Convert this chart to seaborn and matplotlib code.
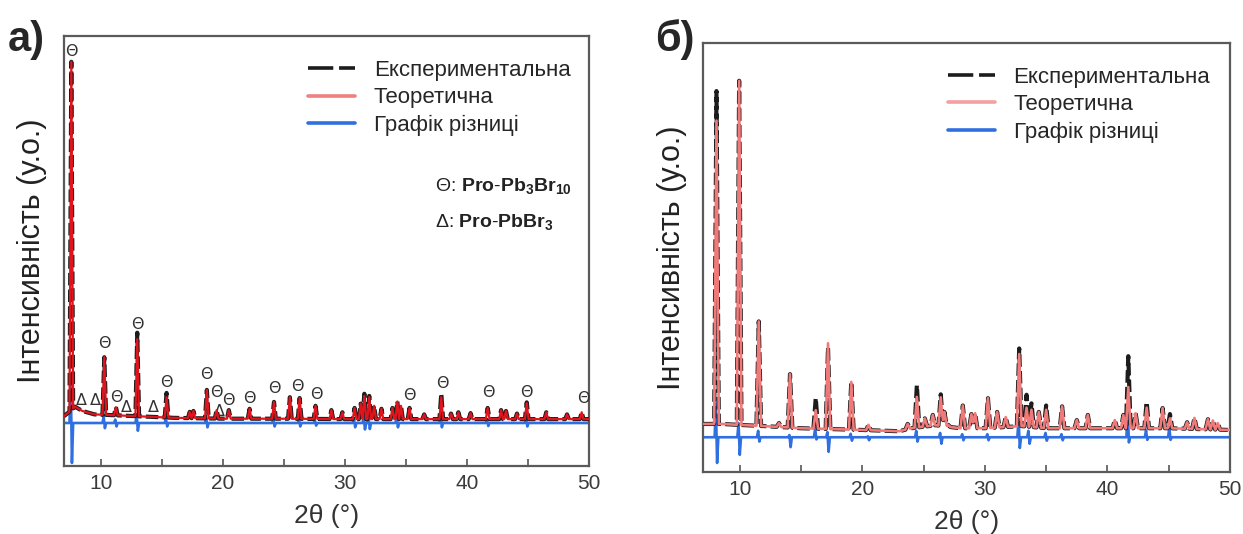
import numpy as np
import matplotlib
matplotlib.use("Agg")
import matplotlib.pyplot as plt
from matplotlib.lines import Line2D
import seaborn as sns

# ---------------- data ----------------
# Panel a)  background of the pattern
a_bg_x = [7.0, 7.4, 7.9, 8.5, 9.5, 12.0, 16.0, 20.0, 25.0, 30.0, 35.0, 40.0, 45.0, 50.0]
a_bg_y = [11.6, 12.5, 13.8, 12.8, 12.0, 11.7, 11.2, 11.0, 11.0, 10.9, 10.9, 10.9, 10.9, 10.9]
# peak positions, experimental tops, theoretical tops
a_pos = [7.6, 10.3, 11.25, 13.0, 15.4, 17.3, 17.6, 18.7, 19.5, 20.5, 22.2, 24.2, 25.5, 26.3,
         27.6, 28.9, 29.8, 30.8, 31.3, 31.6, 32.0, 32.4, 33.0, 33.9, 34.3, 34.6, 35.3, 36.5,
         37.9, 38.7, 39.3, 40.3, 41.7, 42.8, 43.2, 44.1, 44.9, 46.5, 48.2, 49.4]
a_obs = [94.0, 25.3, 13.7, 31.0, 17.0, 12.6, 12.8, 17.7, 13.0, 13.0, 13.3, 14.9, 16.0, 15.8,
         14.0, 13.0, 12.5, 13.5, 14.5, 16.8, 16.3, 14.0, 13.3, 13.5, 15.0, 14.0, 13.5, 12.0,
         16.8, 12.2, 12.5, 12.3, 13.5, 13.0, 12.8, 12.2, 14.8, 12.5, 12.0, 12.5]
a_calc = [94.0, 25.3, 13.7, 29.5, 16.0, 12.6, 12.8, 17.7, 13.0, 13.0, 13.3, 14.9, 16.0, 15.8,
          14.0, 13.0, 12.5, 13.5, 14.5, 16.3, 16.0, 14.0, 13.3, 13.5, 15.0, 14.0, 13.5, 12.0,
          16.0, 12.2, 12.5, 12.3, 13.5, 13.0, 12.8, 12.2, 14.6, 12.5, 12.0, 12.5]
# difference curve: baseline and spikes (position, up, down)
a_diff_base = 10.0
a_diff_pos = [7.6, 10.3, 11.25, 13.0, 15.4, 18.7, 24.2, 26.3, 27.6, 30.8, 31.6, 32.0, 34.3, 37.9, 41.7, 44.9]
a_diff_up = [10.7, 1.5, 0.8, 2.0, 1.0, 1.2, 0.8, 0.8, 0.6, 1.0, 1.5, 1.2, 1.2, 1.5, 0.7, 1.0]
a_diff_dn = [9.3, 1.2, 0.8, 1.8, 0.8, 1.0, 0.8, 0.8, 0.6, 1.0, 1.5, 1.4, 1.0, 1.0, 0.7, 0.8]
# phase markers
a_theta_x = [7.6, 10.3, 11.3, 13.0, 15.4, 18.7, 19.45, 20.5, 22.2, 24.2, 26.1, 27.65, 35.3, 38.0, 41.75, 44.9, 49.5]
a_theta_y = [96.3, 28.6, 16.0, 32.8, 19.5, 21.2, 17.0, 15.3, 15.6, 18.1, 18.4, 16.7, 16.3, 19.3, 17.0, 17.2, 15.6]
a_delta_x = [8.45, 9.55, 12.1, 14.3, 19.75]
a_delta_y = [15.3, 15.3, 13.5, 13.5, 12.6]

# Panel б)
b_bg_x = [7.0, 8.5, 10.5, 12.0, 15.0, 20.0, 23.0, 24.0, 26.0, 28.0, 30.0, 33.0, 35.0, 40.0, 45.0, 50.0]
b_bg_y = [11.2, 11.2, 10.9, 10.7, 10.2, 9.8, 9.5, 10.2, 10.9, 10.2, 10.2, 10.7, 10.2, 10.2, 10.2, 9.8]
b_pos = [8.1, 9.95, 11.55, 13.2, 14.1, 16.2, 17.2, 19.1, 20.5, 23.7, 24.45, 25.1, 25.75, 26.4,
         26.7, 27.0, 28.2, 28.9, 29.2, 30.25, 31.0, 31.7, 32.8, 33.4, 33.8, 34.4, 35.0, 36.3,
         37.5, 38.4, 40.6, 41.3, 41.7, 42.3, 43.2, 44.5, 45.1, 46.5, 47.1, 48.2, 48.6, 49.0]
b_obs = [88.8, 91.2, 35.1, 11.4, 22.8, 17.2, 29.0, 21.0, 11.0, 11.2, 20.2, 12.5, 13.3, 18.1,
         14.0, 11.0, 15.5, 13.5, 13.7, 17.2, 14.0, 12.8, 28.8, 18.0, 16.0, 14.0, 15.5, 15.3,
         12.1, 13.3, 12.1, 13.3, 27.0, 13.7, 16.3, 14.9, 13.5, 11.6, 12.6, 12.3, 12.0, 11.4]
b_calc = [81.9, 91.2, 35.1, 11.4, 22.8, 14.4, 30.0, 21.0, 11.0, 11.2, 17.5, 12.5, 13.3, 17.4,
          14.0, 11.0, 15.5, 13.5, 13.7, 17.2, 14.0, 12.8, 27.5, 15.0, 14.5, 14.0, 14.5, 15.3,
          12.1, 13.3, 12.1, 13.3, 19.8, 13.7, 15.0, 14.9, 12.5, 11.6, 12.6, 12.3, 12.0, 11.4]
b_diff_base = 8.1
b_diff_pos = [8.1, 9.95, 11.55, 14.1, 16.2, 17.2, 19.1, 20.5, 24.45, 26.4, 28.2, 30.25, 32.8, 33.6, 35.0, 36.3, 41.7, 43.2, 45.1]
b_diff_up = [7.9, 3.3, 1.5, 0.5, 2.0, 1.2, 0.8, 0.2, 1.5, 1.0, 0.7, 0.7, 4.3, 1.5, 1.0, 0.7, 7.5, 1.6, 2.3]
b_diff_dn = [6.0, 4.1, 1.0, 2.3, 0.5, 3.4, 0.8, 0.7, 1.0, 1.5, 0.7, 0.7, 2.5, 1.5, 0.8, 0.7, 1.2, 0.6, 0.6]

legend_labels = ["Експериментальна", "Теоретична", "Графік різниці"]
x_ticks = [10, 20, 30, 40, 50]
x_minor = [15, 25, 35, 45]
x_label = "2θ (°)"
y_label = "Інтенсивність (у.о.)"
phase_labels = [r"Θ: $\mathbf{Pro\text{-}Pb_3Br_{10}}$", r"Δ: $\mathbf{Pro\text{-}PbBr_3}$"]


# ---------------- helpers ----------------
def pattern(bg_x, bg_y, pos, tops, hw):
    bx = np.asarray(bg_x, float)
    by = np.asarray(bg_y, float)
    p = np.asarray(pos, float)
    t = np.asarray(tops, float)
    xs = np.unique(np.concatenate([bx, p - hw, p, p + hw]))
    xs = xs[(xs >= bx[0]) & (xs <= bx[-1])]
    ys = np.interp(xs, bx, by)
    base_at_peak = np.interp(p, bx, by)
    for pi, ti, bi in zip(p, t, base_at_peak):
        ys = ys + np.clip(1 - np.abs(xs - pi) / hw, 0, None) * (ti - bi)
    return xs, ys


def diff_curve(base, pos, up, dn, x0=7.0, x1=50.0, hw=0.15):
    xs = [x0]
    ys = [base]
    for p, u, d in sorted(zip(pos, up, dn)):
        xs += [p - hw, p - hw / 3, p + hw / 3, p + hw]
        ys += [base, base + u, base - d, base]
    xs.append(x1)
    ys.append(base)
    return np.array(xs), np.array(ys)


sns.set_theme(style="white")
plt.rcParams["font.family"] = ["Liberation Sans", "DejaVu Sans"]
plt.rcParams["mathtext.fontset"] = "custom"
plt.rcParams["mathtext.rm"] = "Liberation Sans"
plt.rcParams["mathtext.bf"] = "Liberation Sans:bold"

W, H = 1243, 534
fig = plt.figure(figsize=(W / 100, H / 100), dpi=100)
fig.patch.set_facecolor("white")
ax1 = fig.add_axes([64 / W, (H - 466) / H, 525 / W, 430 / H])
ax2 = fig.add_axes([703 / W, (H - 472) / H, 527 / W, 429 / H])

BLACK = "#1c1c1c"
BLUE = "#2f6fe0"


def draw(ax, bg_x, bg_y, pos, obs, calc, dbase, dpos, dup, ddn, red, red_leg, red_lw, hw, ylab_x):
    dx, dy = diff_curve(dbase, dpos, dup, ddn)
    ox, oy = pattern(bg_x, bg_y, pos, obs, hw)
    cx, cy = pattern(bg_x, bg_y, pos, calc, hw)
    sns.lineplot(x=dx, y=dy, ax=ax, color=BLUE, lw=1.9, sort=False, estimator=None, zorder=2)
    sns.lineplot(x=ox, y=oy, ax=ax, color=BLACK, lw=3.0, sort=False, estimator=None,
                 linestyle=(0, (3, 1.0)), zorder=3)
    sns.lineplot(x=cx, y=cy, ax=ax, color=red, lw=red_lw, sort=False, estimator=None, zorder=4)
    ax.set_xlim(7, 50)
    ax.set_ylim(0, 100)
    ax.set_xticks(x_ticks)
    ax.set_xticks(x_minor, minor=True)
    ax.set_yticks([])
    ax.tick_params(axis="x", which="both", direction="in", length=5, width=1.2, color="#555",
                   bottom=True, labelsize=15, labelcolor="#3a3a3a", pad=6)
    for s in ax.spines.values():
        s.set_color("#5a5a5a")
        s.set_linewidth(1.6)
        s.set_visible(True)
    ax.set_xlabel(x_label, fontsize=19, color="#333", labelpad=8)
    ax.set_ylabel(y_label, fontsize=22, color="#222")
    ax.yaxis.set_label_coords(ylab_x, 0.5)
    handles = [Line2D([], [], color=BLACK, lw=2.6, linestyle=(0, (7, 1.6))),
               Line2D([], [], color=red_leg, lw=2.6),
               Line2D([], [], color=BLUE, lw=2.6)]
    ax.legend(handles, legend_labels, loc="upper left", bbox_to_anchor=(0.465, 0.945),
              frameon=False, fontsize=16, handlelength=2.1, handletextpad=0.85,
              labelspacing=0.3, borderpad=0, borderaxespad=0)


draw(ax1, a_bg_x, a_bg_y, a_pos, a_obs, a_calc, a_diff_base, a_diff_pos, a_diff_up, a_diff_dn,
     red="#e0141c", red_leg="#f08080", red_lw=1.6, hw=0.15, ylab_x=-0.032)
draw(ax2, b_bg_x, b_bg_y, b_pos, b_obs, b_calc, b_diff_base, b_diff_pos, b_diff_up, b_diff_dn,
     red="#f07a7a", red_leg="#f5a0a0", red_lw=1.9, hw=0.19, ylab_x=-0.03)

for x, y in zip(a_theta_x, a_theta_y):
    ax1.text(x, y, "Θ", ha="center", va="center", fontsize=11.5, color="#333",
             family="DejaVu Sans")
for x, y in zip(a_delta_x, a_delta_y):
    ax1.text(x, y, "Δ", ha="center", va="center", fontsize=11.5, color="#333",
             family="DejaVu Sans")

ax1.text(0.707, 0.651, phase_labels[0], transform=ax1.transAxes, fontsize=14,
         ha="left", va="center", color="#222")
ax1.text(0.707, 0.567, phase_labels[1], transform=ax1.transAxes, fontsize=14,
         ha="left", va="center", color="#222")

fig.text(8 / W, (H - 40) / H, "а)", fontsize=30, fontweight="bold", ha="left", va="center")
fig.text(655 / W, (H - 40) / H, "б)", fontsize=30, fontweight="bold", ha="left", va="center")

fig.savefig("out.png", dpi=100, facecolor="white")
